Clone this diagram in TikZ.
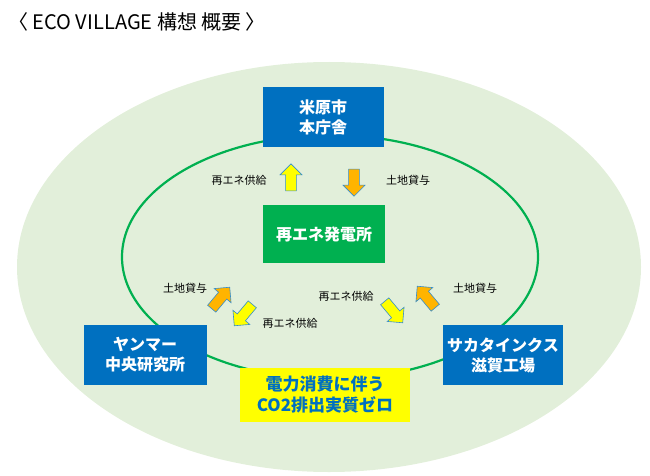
\documentclass[tikz,border=0pt]{standalone}
\usepackage{fontspec}
\setmainfont{Noto Sans CJK JP}
\usetikzlibrary{shapes.arrows}
\definecolor{bgg}{RGB}{226,239,218}
\definecolor{dg}{RGB}{0,176,80}
\definecolor{bl}{RGB}{0,112,192}
\definecolor{org}{RGB}{255,180,0}
\definecolor{ylw}{RGB}{255,255,0}
\begin{document}
\begin{tikzpicture}[x=1pt,y=-1pt,
 box/.style={draw=none,fill=bl,text=white,font=\fontsize{16}{20}\selectfont\bfseries,align=center,minimum width=121pt,minimum height=59pt,inner sep=0},
 lbl/.style={font=\fontsize{11}{13}\selectfont,inner sep=0},
 arr/.style={single arrow,draw=bl!80,line width=0.6pt,minimum height=27pt,minimum width=22pt,single arrow head extend=3.5pt,inner sep=3pt}]
\useasboundingbox (0,0) rectangle (650,476);
\node[anchor=west,font=\fontsize{20}{22}\selectfont,inner sep=0] (title) at (8,22) {〈 ECO VILLAGE 構想 概要 〉};
\fill[bgg] (329,267) ellipse [x radius=312,y radius=205];
\draw[dg,line width=2.2pt] (330,257) ellipse [x radius=208,y radius=122];
\node[box] (city) at (323,117) {米原市\\本庁舎};
\node[box,fill=dg,minimum height=58pt,minimum width=122pt] (plant) at (324,234) {再エネ発電所};
\node[box,minimum width=123pt,minimum height=60pt] (yan) at (145,355) {ヤンマー\\中央研究所};
\node[box,minimum width=120pt,minimum height=60pt] (sak) at (503,355) {サカタインクス\\滋賀工場};
\node[fill=ylw,text=bl,font=\fontsize{17}{21}\selectfont\bfseries,align=center,minimum width=170pt,minimum height=54pt,inner sep=0] (zero) at (325,395) {電力消費に伴う\\CO2排出実質ゼロ};
\node[arr,fill=ylw,rotate=90] (a1) at (291,180) {};
\node[arr,fill=org,rotate=-90] (a2) at (354,180) {};
\node[lbl] (l1) at (239,180) {再エネ供給};
\node[lbl] (l2) at (408,180) {土地貸与};
\node[arr,fill=org,rotate=50,minimum height=28pt] (a3) at (219,300) {};
\node[arr,fill=ylw,rotate=-130,minimum height=28pt] (a4) at (245,313) {};
\node[lbl] (l3) at (185,288) {土地貸与};
\node[lbl] (l4) at (290,323) {再エネ供給};
\node[arr,fill=ylw,rotate=-50,minimum height=28pt] (a5) at (392,310) {};
\node[arr,fill=org,rotate=130,minimum height=28pt] (a6) at (428,299) {};
\node[lbl] (l5) at (346,296) {再エネ供給};
\node[lbl] (l6) at (475,288) {土地貸与};
\end{tikzpicture}
\end{document}
